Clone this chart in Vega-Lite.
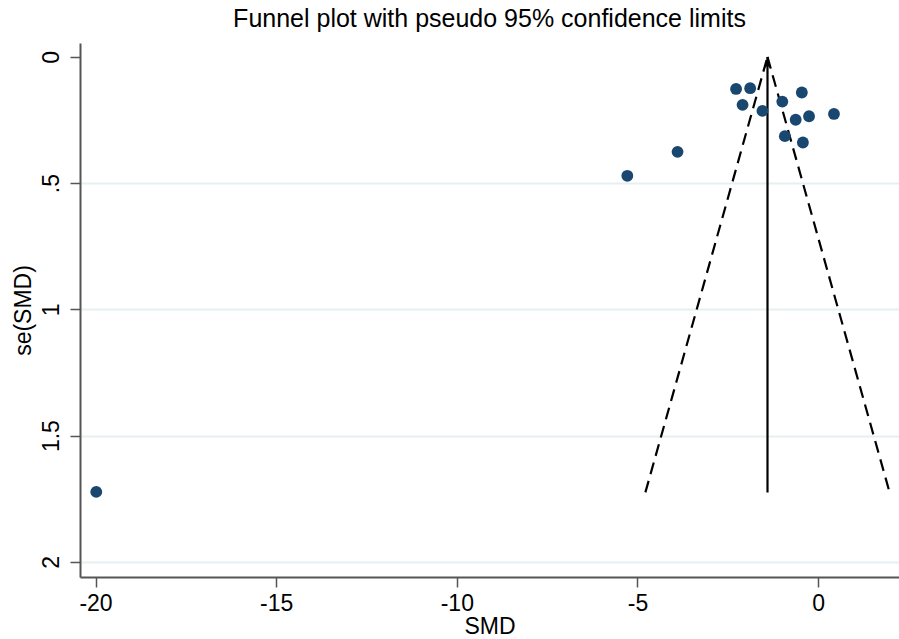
{
  "$schema": "https://vega.github.io/schema/vega-lite/v6.json",
  "width": 819,
  "height": 534,
  "autosize": {"type": "none"},
  "padding": {"left": 80, "top": 43, "right": 0, "bottom": 62},
  "background": "white",
  "title": {"text": "Funnel plot with pseudo 95% confidence limits", "font": "Liberation Sans", "fontSize": 25, "fontWeight": "normal", "color": "#000000", "anchor": "middle", "offset": 11},
  "config": {
    "view": {"stroke": null},
    "font": "Liberation Sans",
    "axis": {"labelFont": "Liberation Sans", "titleFont": "Liberation Sans", "labelColor": "#000000", "titleColor": "#000000", "titleFontWeight": "normal", "domainColor": "#555555", "tickColor": "#555555", "domainWidth": 2, "tickWidth": 1.5, "tickSize": 10}
  },
  "datasets": {
    "studies": [
      {"smd": -2.27, "se": 0.127},
      {"smd": -1.88, "se": 0.124},
      {"smd": -2.09, "se": 0.19},
      {"smd": -1.54, "se": 0.214},
      {"smd": -0.99, "se": 0.177},
      {"smd": -0.45, "se": 0.141},
      {"smd": -0.62, "se": 0.249},
      {"smd": -0.25, "se": 0.235},
      {"smd": 0.44, "se": 0.226},
      {"smd": -0.92, "se": 0.314},
      {"smd": -0.42, "se": 0.339},
      {"smd": -3.89, "se": 0.376},
      {"smd": -5.28, "se": 0.471},
      {"smd": -19.98, "se": 1.723}
    ],
    "limits": [
      {"side": "lower", "smd": -1.40, "se": 0},
      {"side": "lower", "smd": -4.78, "se": 1.725},
      {"side": "upper", "smd": -1.40, "se": 0},
      {"side": "upper", "smd": 1.98, "se": 1.725}
    ],
    "pooled": [
      {"smd": -1.40, "se": 0},
      {"smd": -1.40, "se": 1.725}
    ]
  },
  "encoding": {
    "x": {"field": "smd", "type": "quantitative", "title": "SMD",
      "scale": {"domain": [-20.43, 2.24], "nice": false, "zero": false},
      "axis": {"values": [-20, -15, -10, -5, 0], "labelExpr": "replace(datum.label, '\u2212', '-')", "grid": false, "labelFontSize": 23, "titleFontSize": 23, "labelPadding": 5, "titlePadding": 0}},
    "y": {"field": "se", "type": "quantitative", "title": "se(SMD)",
      "scale": {"domain": [-0.055, 2.06], "nice": false, "zero": false, "reverse": true},
      "axis": {"values": [0, 0.5, 1, 1.5, 2], "format": "~g", "labelExpr": "replace(datum.label, '0.', '.')", "labelAngle": -90, "labelAlign": "center", "labelBaseline": "bottom", "labelFontSize": 23, "titleFontSize": 23, "labelPadding": 7, "titlePadding": 5,
        "grid": true, "gridColor": "#e6f0f2", "gridWidth": 2, "gridOpacity": {"expr": "datum.value == 0 ? 0 : 1"}}}
  },
  "layer": [
    {"data": {"name": "limits"}, "mark": {"type": "line", "color": "#000000", "strokeWidth": 2.2, "strokeDash": [12, 7]}, "encoding": {"detail": {"field": "side"}}},
    {"data": {"name": "pooled"}, "mark": {"type": "line", "color": "#000000", "strokeWidth": 2.2}, "encoding": {}},
    {"data": {"name": "pooled"}, "transform": [{"filter": "datum.se == 0"}], "mark": {"type": "point", "shape": "M0,0 L0.55,1.7 L0,1.25 L-0.55,1.7 Z", "size": 200, "filled": true, "color": "#000000", "opacity": 1}, "encoding": {}},
    {"data": {"name": "studies"}, "mark": {"type": "circle", "size": 140, "color": "#1a476f", "opacity": 1}, "encoding": {}}
  ]
}
